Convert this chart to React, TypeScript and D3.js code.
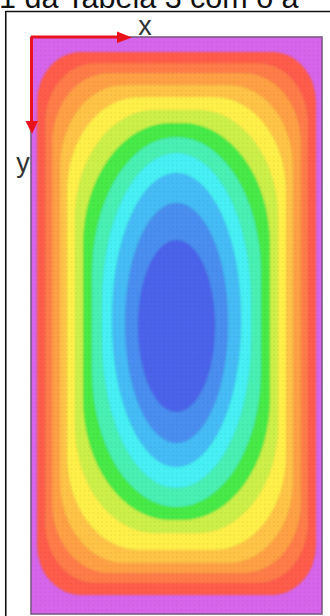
import React from "react";
import * as d3 from "d3";

// Band colours from the outside (lowest value) to the centre (highest value)
const bandColors = [
  "#d665ec", "#ff5c4c", "#ff7c4a", "#ffa044", "#ffc446", "#fff04a", "#cdf04a",
  "#46ea46", "#48f0b4", "#46f0f4", "#44bcf6", "#4a8ef0", "#4b64ea",
];
// Each band boundary (contour level k = 1..12): distance (px) from each plot edge along the mid-lines
const leftOffsets = [6, 14, 21, 29, 36, 44, 52, 61, 71, 81, 94, 107];
const rightOffsets = [6, 14, 21, 29, 36, 44, 52, 61, 71, 81, 94, 107];
const topOffsets = [15, 26, 36, 48, 60, 73, 86, 100, 116, 136, 166, 203];
const bottomOffsets = [19, 31, 41, 51, 64, 81, 94, 107, 126, 147, 171, 202];
// Corner rounding of each contour (horizontal and vertical radius, px)
const cornerRx = [44, 50, 57, 64, 72, 80, 88, 85, 75, 65, 52, 39];
const cornerRy = [50, 60, 70, 82, 94, 108, 122, 136, 148, 145, 122, 86];
const titleText = "1 da Tabela 3 com o a";
const axisLabels = ["x", "y"];

const W = 330, H = 616;
const X0 = 31, Y0 = 37, PW = 291, PH = 577;

function contourPath(k: number): string {
  const sx = d3.scaleLinear().domain([0, PW]).range([X0, X0 + PW]);
  const sy = d3.scaleLinear().domain([0, PH]).range([Y0, Y0 + PH]);
  const x0 = sx(leftOffsets[k]), x1 = sx(PW - rightOffsets[k]);
  const y0 = sy(topOffsets[k]), y1 = sy(PH - bottomOffsets[k]);
  const rx = Math.min(cornerRx[k], (x1 - x0) / 2);
  const ry = Math.min(cornerRy[k], (y1 - y0) / 2);
  return [
    `M${x0 + rx},${y0}`,
    `H${x1 - rx}`,
    `A${rx},${ry} 0 0 1 ${x1},${y0 + ry}`,
    `V${y1 - ry}`,
    `A${rx},${ry} 0 0 1 ${x1 - rx},${y1}`,
    `H${x0 + rx}`,
    `A${rx},${ry} 0 0 1 ${x0},${y1 - ry}`,
    `V${y0 + ry}`,
    `A${rx},${ry} 0 0 1 ${x0 + rx},${y0}`,
    "Z",
  ].join(" ");
}

export default function App() {
  const font = "Liberation Sans, Arial, sans-serif";
  return (
    <svg width={W} height={H} style={{ position: "absolute", left: 0, top: 0, background: "#fff" }}>
      <defs>
        <clipPath id="plotClip">
          <rect x={X0} y={Y0} width={PW} height={PH} />
        </clipPath>
        <filter id="soft" x="-5%" y="-5%" width="110%" height="110%">
          <feGaussianBlur stdDeviation="0.9" />
        </filter>
        <pattern id="dots" width="4.4" height="4.4" patternUnits="userSpaceOnUse" x={X0} y={Y0}>
          <rect x="0" y="0" width="1.6" height="1.6" fill="#000" opacity="0.06" />
        </pattern>
      </defs>
      <text x={-1} y={7.5} fontFamily={font} fontSize={30.5} fill="#111">
        {titleText}
      </text>
      <line x1={5.75} y1={11.5} x2={330} y2={11.5} stroke="#111" strokeWidth={1.6} />
      <line x1={5.75} y1={11} x2={5.75} y2={616} stroke="#111" strokeWidth={1.6} />

      <g clipPath="url(#plotClip)">
        <rect x={X0} y={Y0} width={PW} height={PH} fill={bandColors[0]} />
        <g filter="url(#soft)">
          {leftOffsets.map((_, k) => (
            <path key={k} d={contourPath(k)} fill={bandColors[k + 1]} />
          ))}
          {leftOffsets.map((_, k) => (
            <path key={"s" + k} d={contourPath(k)} fill="none" stroke="#000" strokeOpacity={0.12}
              strokeWidth={1} strokeDasharray="1.5 3" />
          ))}
        </g>
        <rect x={X0} y={Y0} width={PW} height={PH} fill="url(#dots)" />
      </g>
      <rect x={X0} y={Y0} width={PW} height={PH} fill="none" stroke="#7a5a86" strokeWidth={1.6} />

      <g fill="#e8121c" stroke="#e8121c">
        <line x1={X0} y1={Y0} x2={118} y2={Y0} strokeWidth={3} />
        <polygon points={`117,31.5 132,37.5 117,43`} stroke="none" />
        <line x1={X0 + 0.5} y1={Y0} x2={X0 + 0.5} y2={122} strokeWidth={3} />
        <polygon points={`25.5,121 38,121 32,134`} stroke="none" />
      </g>
      <text x={145} y={35} textAnchor="middle" fontFamily={font} fontSize={27} fill="#333">
        {axisLabels[0]}
      </text>
      <text x={23} y={171.5} textAnchor="middle" fontFamily={font} fontSize={27} fill="#333">
        {axisLabels[1]}
      </text>
    </svg>
  );
}
